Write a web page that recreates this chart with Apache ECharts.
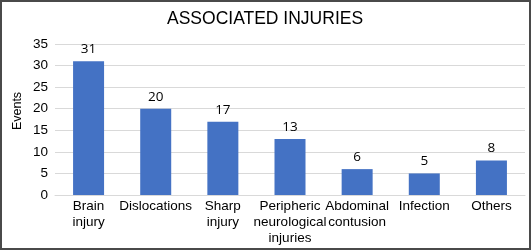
<!DOCTYPE html>
<html>
<head>
<meta charset="utf-8">
<script src="https://cdn.jsdelivr.net/npm/echarts@6/dist/echarts.min.js"></script>
<style>
  body { margin: 0; background: #fff; }
  #chart { width: 531px; height: 250px; }
  #frame {
    position: absolute; left: 0; top: 0; width: 531px; height: 250px;
    box-sizing: border-box; border: 2px solid #4a4a4a; pointer-events: none;
  }
</style>
</head>
<body>
<div id="chart"></div>
<div id="frame"></div>
<script>
// chart data
var categories = ['Brain injury', 'Dislocations', 'Sharp injury', 'Peripheric neurological injuries', 'Abdominal contusion', 'Infection', 'Others'];
var events = [31, 20, 17, 13, 6, 5, 8];
var yTicks = [0, 5, 10, 15, 20, 25, 30, 35];

var font = '"Liberation Sans", Arial, sans-serif';

var myChart = echarts.init(document.getElementById('chart'));
myChart.setOption({
  animation: false,
  title: {
    text: 'ASSOCIATED INJURIES',
    left: 162,
    top: 5,
    textStyle: { fontFamily: font, fontSize: 17.5, fontWeight: 'normal', color: '#000' }
  },
  grid: { left: 55, top: 44, width: 470, height: 151 },
  xAxis: {
    type: 'category',
    data: categories,
    axisTick: { show: false },
    axisLine: { lineStyle: { color: '#d9d9d9' } },
    axisLabel: {
      interval: 0,
      margin: 3,
      color: '#000',
      fontFamily: font,
      fontSize: 13.5,
      lineHeight: 16,
      formatter: function (v) { return v.split(' ').join('\n'); }
    }
  },
  yAxis: {
    type: 'value',
    min: yTicks[0],
    max: yTicks[yTicks.length - 1],
    interval: 5,
    axisLabel: { color: '#000', fontFamily: font, fontSize: 13.5, margin: 7 },
    splitLine: { lineStyle: { color: '#d9d9d9' } }
  },
  // axis title sits a bit above the plot centre, as in the original
  graphic: [{
    type: 'text',
    x: 18,
    y: 111,
    rotation: Math.PI / 2,
    style: {
      text: 'Events',
      fill: '#000',
      font: '12.5px ' + font,
      textAlign: 'center',
      textVerticalAlign: 'middle'
    }
  }],
  series: [{
    type: 'bar',
    data: events,
    barWidth: 31,
    itemStyle: { color: '#4472C4' },
    label: {
      show: true,
      position: 'top',
      distance: 5,
      color: '#000',
      fontFamily: '"Open Sans", sans-serif',
      fontSize: 13.5
    }
  }]
});
</script>
</body>
</html>
